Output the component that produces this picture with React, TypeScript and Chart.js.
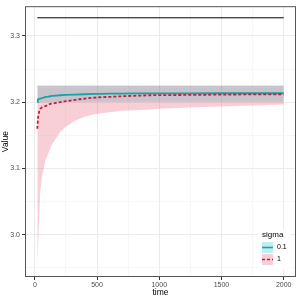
import React, { useEffect, useRef } from "react";
import { Chart, registerables } from "chart.js";

Chart.register(...registerables);

const times = [20, 24, 28, 36, 44, 52, 60, 72, 84, 108, 124, 140, 170, 204, 250, 324, 400, 484, 524, 600, 700, 800, 924, 1000, 1244, 1500, 1750, 2000];

const meanLow = [3.2, 3.2035, 3.2045, 3.205, 3.2055, 3.206, 3.2065, 3.207, 3.208, 3.2085, 3.209, 3.2095, 3.21, 3.2105, 3.211, 3.2115, 3.212, 3.2125, 3.2127, 3.213, 3.213, 3.2132, 3.2133, 3.2133, 3.2134, 3.2135, 3.2135, 3.2135];
const upperLow = [3.2255, 3.2255, 3.2255, 3.2255, 3.2255, 3.2255, 3.2255, 3.2255, 3.2255, 3.2255, 3.2255, 3.2255, 3.2255, 3.2255, 3.2255, 3.2255, 3.2255, 3.2255, 3.2255, 3.2255, 3.2255, 3.2255, 3.2255, 3.2255, 3.2255, 3.2255, 3.2255, 3.2255];
const lowerLow = [3.2, 3.2, 3.2, 3.2, 3.2, 3.2, 3.2, 3.2, 3.2, 3.2, 3.2, 3.2005, 3.2005, 3.2005, 3.2005, 3.2005, 3.2005, 3.2005, 3.2005, 3.2005, 3.2005, 3.2005, 3.2005, 3.2005, 3.2005, 3.2005, 3.2005, 3.2005];

const meanHigh = [3.16, 3.172, 3.18, 3.187, 3.19, 3.1915, 3.1925, 3.1933, 3.194, 3.196, 3.1975, 3.198, 3.199, 3.2, 3.2015, 3.2035, 3.2055, 3.207, 3.2075, 3.208, 3.209, 3.2097, 3.2105, 3.2107, 3.211, 3.2115, 3.2118, 3.212];
const upperHigh = [3.2245, 3.2245, 3.2245, 3.2245, 3.2245, 3.2245, 3.2245, 3.2245, 3.2245, 3.2245, 3.2245, 3.2245, 3.2245, 3.2245, 3.2245, 3.2245, 3.2245, 3.2245, 3.2245, 3.2245, 3.2245, 3.2245, 3.2245, 3.2245, 3.2245, 3.2245, 3.2245, 3.2245];
const lowerHigh = [2.955, 2.97, 2.99, 3.03, 3.066, 3.08, 3.092, 3.1, 3.112, 3.122, 3.13, 3.137, 3.145, 3.155, 3.163, 3.172, 3.178, 3.182, 3.183, 3.185, 3.187, 3.188, 3.189, 3.19, 3.192, 3.1935, 3.195, 3.1965];

const refTimes = [20, 2000];
const refValue = [3.3275, 3.3275];

const xTicks = [0, 250, 500, 750, 1000, 1250, 1500, 1750, 2000];
const yTicks = [2.95, 3.0, 3.05, 3.1, 3.15, 3.2, 3.25, 3.3];
const legendTitle = "sigma";
const legendLabels = ["0.1", "1"];

const TEAL_LINE = "#14A3A6";
const RED_LINE = "#C01F3B";
const TEAL_FILL = "rgba(0,191,196,0.25)";
const RED_FILL = "rgba(232,62,96,0.25)";
const FONT = "'Liberation Sans', Arial, sans-serif";

function pts(xs: number[], ys: number[]) {
  return xs.map((x, i) => ({ x, y: ys[i] }));
}

const isMajorX = (v: number) => Math.abs(v % 500) < 1e-6;
const isMajorY = (v: number) => Math.abs(Math.round(v * 100) % 10) === 0;

const panelPlugin = {
  id: "panelDecor",
  afterDraw(chart: any) {
    const { ctx, chartArea: a } = chart;
    ctx.save();
    ctx.strokeStyle = "#555555";
    ctx.lineWidth = 1;
    ctx.strokeRect(a.left + 0.5, a.top + 0.5, a.right - a.left - 1, a.bottom - a.top - 1);

    // legend
    const lx = 258, ly = 229, lw = 33, lh = 40;
    ctx.fillStyle = "#ffffff";
    ctx.fillRect(lx, ly, lw, lh);
    ctx.fillStyle = "#000000";
    ctx.font = `8px ${FONT}`;
    ctx.textBaseline = "middle";
    ctx.textAlign = "left";
    ctx.fillText(legendTitle, 262, 235);
    const keys = [
      { y: 242, fill: TEAL_FILL, line: TEAL_LINE, dash: [] as number[] },
      { y: 254, fill: RED_FILL, line: RED_LINE, dash: [3, 2] },
    ];
    keys.forEach((k, i) => {
      ctx.fillStyle = k.fill;
      ctx.fillRect(262, k.y, 11, 11);
      ctx.strokeStyle = k.line;
      ctx.lineWidth = 1.6;
      ctx.setLineDash(k.dash);
      ctx.beginPath();
      ctx.moveTo(262, k.y + 5.5);
      ctx.lineTo(273, k.y + 5.5);
      ctx.stroke();
      ctx.setLineDash([]);
      ctx.fillStyle = "#000000";
      ctx.font = `7px ${FONT}`;
      ctx.fillText(legendLabels[i], 277, k.y + 5.5);
    });
    ctx.restore();
  },
};

export default function App() {
  const ref = useRef<HTMLCanvasElement | null>(null);
  useEffect(() => {
    if (!ref.current) return;
    const chart = new Chart(ref.current, {
      type: "line",
      data: {
        datasets: [
          { label: "lo-0.1", data: pts(times, lowerLow), borderWidth: 0, pointRadius: 0, fill: false, order: 10 },
          { label: "hi-0.1", data: pts(times, upperLow), borderWidth: 0, pointRadius: 0, backgroundColor: TEAL_FILL, fill: "-1", order: 9 },
          { label: "lo-1", data: pts(times, lowerHigh), borderWidth: 0, pointRadius: 0, fill: false, order: 8 },
          { label: "hi-1", data: pts(times, upperHigh), borderWidth: 0, pointRadius: 0, backgroundColor: RED_FILL, fill: "-1", order: 7 },
          { label: "0.1", data: pts(times, meanLow), borderColor: TEAL_LINE, borderWidth: 1.8, pointRadius: 0, fill: false, order: 6 },
          { label: "1", data: pts(times, meanHigh), borderColor: RED_LINE, borderWidth: 1.8, borderDash: [3, 2], pointRadius: 0, fill: false, order: 5 },
          { label: "ref", data: pts(refTimes, refValue), borderColor: "#000000", borderWidth: 1, pointRadius: 0, fill: false, order: 4 },
        ],
      },
      options: {
        animation: false,
        responsive: false,
        maintainAspectRatio: false,
        layout: { padding: { top: 4, right: 4, left: 0, bottom: 0 } },
        plugins: { legend: { display: false }, tooltip: { enabled: false } },
        elements: { line: { tension: 0 } },
        scales: {
          x: {
            type: "linear",
            min: -79,
            max: 2099,
            afterBuildTicks: (s: any) => { s.ticks = xTicks.map((v) => ({ value: v })); },
            afterFit: (s: any) => { s.height = 23; },
            border: { display: false },
            grid: {
              color: (c: any) => (isMajorX(c.tick.value) ? "#EBEBEB" : "#F3F3F3"),
              lineWidth: (c: any) => (isMajorX(c.tick.value) ? 1 : 0.7),
              tickColor: (c: any) => (isMajorX(c.tick.value) ? "#333333" : "rgba(0,0,0,0)"),
              tickLength: 3,
              drawTicks: true,
            },
            ticks: {
              autoSkip: false,
              maxRotation: 0,
              padding: 1,
              color: "#4D4D4D",
              font: { family: FONT, size: 7 },
              callback: (v: any) => (isMajorX(Number(v)) ? String(v) : ""),
            },
            title: { display: true, text: "time", color: "#000000", font: { family: FONT, size: 8.5 }, padding: { top: 0, bottom: 2 } },
          },
          y: {
            type: "linear",
            min: 2.936,
            max: 3.345,
            afterBuildTicks: (s: any) => { s.ticks = yTicks.map((v) => ({ value: v })); },
            afterFit: (s: any) => { s.width = 25; },
            border: { display: false },
            grid: {
              color: (c: any) => (isMajorY(c.tick.value) ? "#EBEBEB" : "#F3F3F3"),
              lineWidth: (c: any) => (isMajorY(c.tick.value) ? 1 : 0.7),
              tickColor: (c: any) => (isMajorY(c.tick.value) ? "#333333" : "rgba(0,0,0,0)"),
              tickLength: 3,
              drawTicks: true,
            },
            ticks: {
              autoSkip: false,
              padding: 2,
              color: "#4D4D4D",
              font: { family: FONT, size: 7 },
              callback: (v: any) => (isMajorY(Number(v)) ? Number(v).toFixed(1) : ""),
            },
            title: { display: true, text: "Value", color: "#000000", font: { family: FONT, size: 8.5 }, padding: { top: 1, bottom: 0 } },
          },
        },
      },
      plugins: [panelPlugin],
    } as any);
    return () => chart.destroy();
  }, []);
  return (
    <div style={{ position: "fixed", left: 0, top: 0, width: 300, height: 300, background: "#fff" }}>
      <canvas ref={ref} width={300} height={300} style={{ width: 300, height: 300, display: "block" }} />
    </div>
  );
}
